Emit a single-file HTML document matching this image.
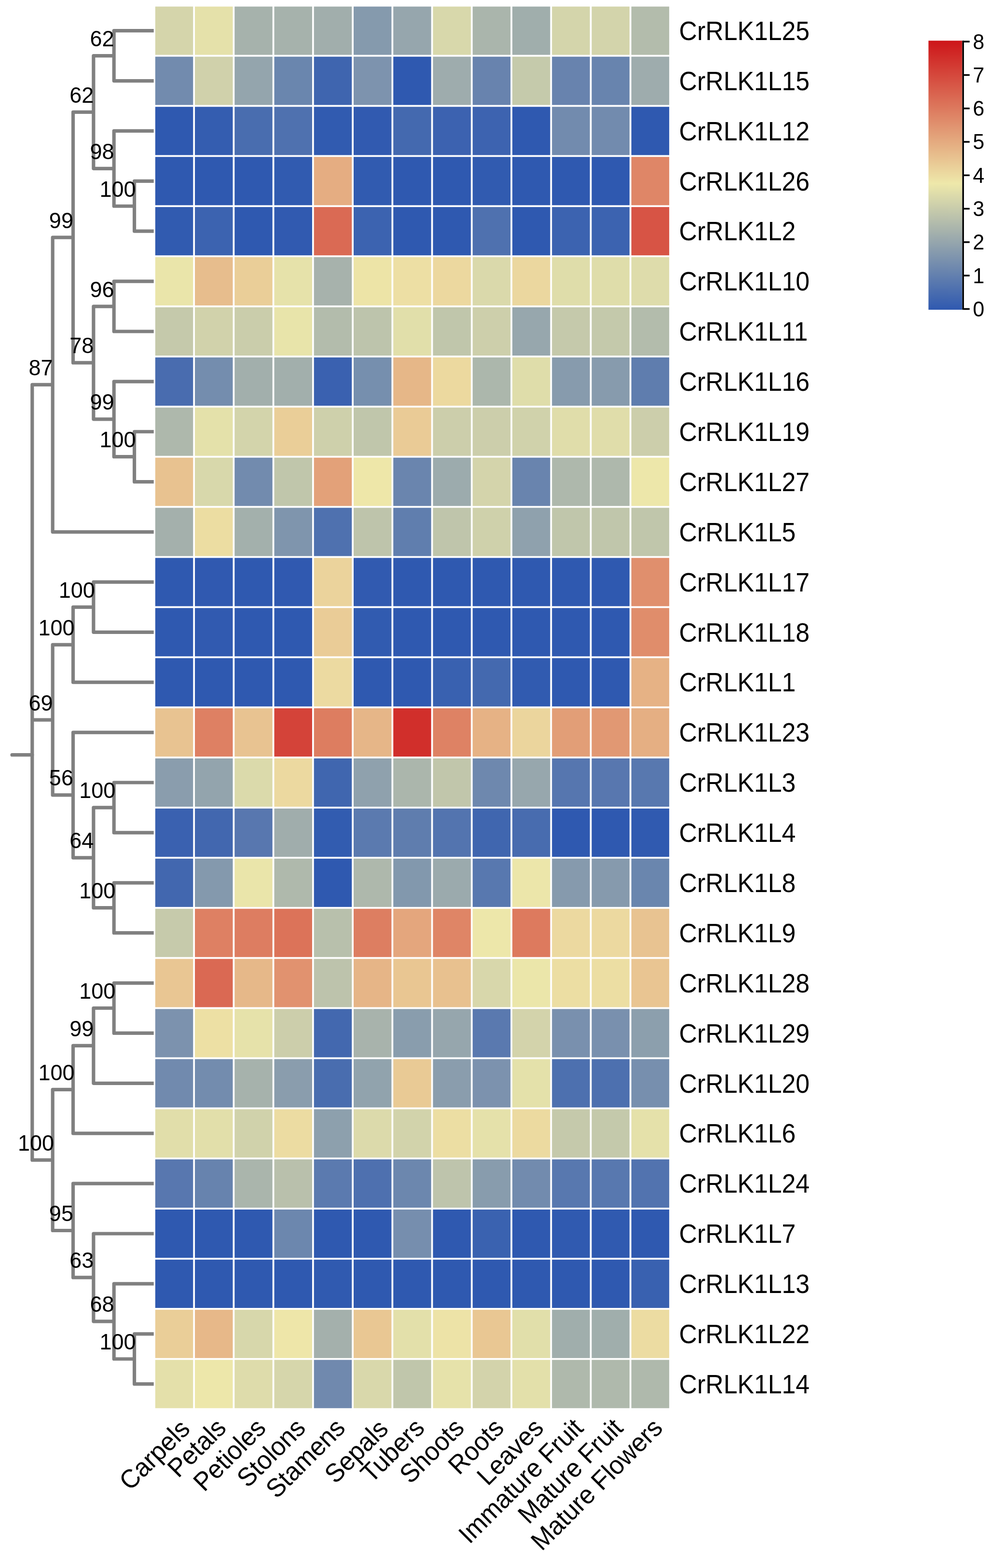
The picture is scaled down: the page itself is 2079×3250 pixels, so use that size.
<!DOCTYPE html><html><head><meta charset="utf-8"><title>CrRLK1L heatmap</title><style>html,body{margin:0;padding:0;background:#fff;}svg{display:block;}</style></head><body><svg width="2079" height="3250" viewBox="0 0 2079 3250">
<rect width="2079" height="3250" fill="#ffffff"/>
<g>
<rect x="321.8" y="13.6" width="78.44" height="100.09" fill="#D5D5AB"/>
<rect x="404.04" y="13.6" width="78.44" height="100.09" fill="#E5E1AA"/>
<rect x="486.28" y="13.6" width="78.44" height="100.09" fill="#A6B2AC"/>
<rect x="568.52" y="13.6" width="78.44" height="100.09" fill="#A6B2AC"/>
<rect x="650.76" y="13.6" width="78.44" height="100.09" fill="#A1AEAC"/>
<rect x="733" y="13.6" width="78.44" height="100.09" fill="#859AAD"/>
<rect x="815.24" y="13.6" width="78.44" height="100.09" fill="#96A6AD"/>
<rect x="897.48" y="13.6" width="78.44" height="100.09" fill="#D8D8AB"/>
<rect x="979.72" y="13.6" width="78.44" height="100.09" fill="#AAB5AC"/>
<rect x="1061.96" y="13.6" width="78.44" height="100.09" fill="#A0AEAC"/>
<rect x="1144.2" y="13.6" width="78.44" height="100.09" fill="#D4D5AB"/>
<rect x="1226.44" y="13.6" width="78.44" height="100.09" fill="#D3D4AB"/>
<rect x="1308.68" y="13.6" width="78.44" height="100.09" fill="#B3BCAC"/>
<rect x="321.8" y="117.49" width="78.44" height="100.09" fill="#728BAE"/>
<rect x="404.04" y="117.49" width="78.44" height="100.09" fill="#D0D1AB"/>
<rect x="486.28" y="117.49" width="78.44" height="100.09" fill="#94A5AD"/>
<rect x="568.52" y="117.49" width="78.44" height="100.09" fill="#6A86AE"/>
<rect x="650.76" y="117.49" width="78.44" height="100.09" fill="#3F65AF"/>
<rect x="733" y="117.49" width="78.44" height="100.09" fill="#7D93AE"/>
<rect x="815.24" y="117.49" width="78.44" height="100.09" fill="#2F59B0"/>
<rect x="897.48" y="117.49" width="78.44" height="100.09" fill="#9EACAD"/>
<rect x="979.72" y="117.49" width="78.44" height="100.09" fill="#6883AE"/>
<rect x="1061.96" y="117.49" width="78.44" height="100.09" fill="#C5CAAB"/>
<rect x="1144.2" y="117.49" width="78.44" height="100.09" fill="#6883AE"/>
<rect x="1226.44" y="117.49" width="78.44" height="100.09" fill="#6884AE"/>
<rect x="1308.68" y="117.49" width="78.44" height="100.09" fill="#9EACAD"/>
<rect x="321.8" y="221.38" width="78.44" height="100.09" fill="#2F59B0"/>
<rect x="404.04" y="221.38" width="78.44" height="100.09" fill="#345DB0"/>
<rect x="486.28" y="221.38" width="78.44" height="100.09" fill="#496DAF"/>
<rect x="568.52" y="221.38" width="78.44" height="100.09" fill="#4F71AF"/>
<rect x="650.76" y="221.38" width="78.44" height="100.09" fill="#315BB0"/>
<rect x="733" y="221.38" width="78.44" height="100.09" fill="#315AB0"/>
<rect x="815.24" y="221.38" width="78.44" height="100.09" fill="#4469AF"/>
<rect x="897.48" y="221.38" width="78.44" height="100.09" fill="#3C62B0"/>
<rect x="979.72" y="221.38" width="78.44" height="100.09" fill="#3D63B0"/>
<rect x="1061.96" y="221.38" width="78.44" height="100.09" fill="#2F59B0"/>
<rect x="1144.2" y="221.38" width="78.44" height="100.09" fill="#728BAE"/>
<rect x="1226.44" y="221.38" width="78.44" height="100.09" fill="#728BAE"/>
<rect x="1308.68" y="221.38" width="78.44" height="100.09" fill="#2F59B0"/>
<rect x="321.8" y="325.27" width="78.44" height="100.09" fill="#2F59B0"/>
<rect x="404.04" y="325.27" width="78.44" height="100.09" fill="#2F59B0"/>
<rect x="486.28" y="325.27" width="78.44" height="100.09" fill="#2F59B0"/>
<rect x="568.52" y="325.27" width="78.44" height="100.09" fill="#315BB0"/>
<rect x="650.76" y="325.27" width="78.44" height="100.09" fill="#E5AD82"/>
<rect x="733" y="325.27" width="78.44" height="100.09" fill="#315BB0"/>
<rect x="815.24" y="325.27" width="78.44" height="100.09" fill="#2F59B0"/>
<rect x="897.48" y="325.27" width="78.44" height="100.09" fill="#2F59B0"/>
<rect x="979.72" y="325.27" width="78.44" height="100.09" fill="#315BB0"/>
<rect x="1061.96" y="325.27" width="78.44" height="100.09" fill="#2F59B0"/>
<rect x="1144.2" y="325.27" width="78.44" height="100.09" fill="#2F59B0"/>
<rect x="1226.44" y="325.27" width="78.44" height="100.09" fill="#2F59B0"/>
<rect x="1308.68" y="325.27" width="78.44" height="100.09" fill="#DF8667"/>
<rect x="321.8" y="429.16" width="78.44" height="100.09" fill="#315BB0"/>
<rect x="404.04" y="429.16" width="78.44" height="100.09" fill="#3C63B0"/>
<rect x="486.28" y="429.16" width="78.44" height="100.09" fill="#2F59B0"/>
<rect x="568.52" y="429.16" width="78.44" height="100.09" fill="#315AB0"/>
<rect x="650.76" y="429.16" width="78.44" height="100.09" fill="#DA6A54"/>
<rect x="733" y="429.16" width="78.44" height="100.09" fill="#3C63B0"/>
<rect x="815.24" y="429.16" width="78.44" height="100.09" fill="#2F59B0"/>
<rect x="897.48" y="429.16" width="78.44" height="100.09" fill="#2F59B0"/>
<rect x="979.72" y="429.16" width="78.44" height="100.09" fill="#4F71AF"/>
<rect x="1061.96" y="429.16" width="78.44" height="100.09" fill="#2F59B0"/>
<rect x="1144.2" y="429.16" width="78.44" height="100.09" fill="#3C63B0"/>
<rect x="1226.44" y="429.16" width="78.44" height="100.09" fill="#3C63B0"/>
<rect x="1308.68" y="429.16" width="78.44" height="100.09" fill="#D75445"/>
<rect x="321.8" y="533.05" width="78.44" height="100.09" fill="#EAE5AA"/>
<rect x="404.04" y="533.05" width="78.44" height="100.09" fill="#E7BD8D"/>
<rect x="486.28" y="533.05" width="78.44" height="100.09" fill="#EACE98"/>
<rect x="568.52" y="533.05" width="78.44" height="100.09" fill="#E6E2AA"/>
<rect x="650.76" y="533.05" width="78.44" height="100.09" fill="#A7B2AC"/>
<rect x="733" y="533.05" width="78.44" height="100.09" fill="#EDE4A7"/>
<rect x="815.24" y="533.05" width="78.44" height="100.09" fill="#EDDFA4"/>
<rect x="897.48" y="533.05" width="78.44" height="100.09" fill="#ECD89F"/>
<rect x="979.72" y="533.05" width="78.44" height="100.09" fill="#DAD9AB"/>
<rect x="1061.96" y="533.05" width="78.44" height="100.09" fill="#EBD79F"/>
<rect x="1144.2" y="533.05" width="78.44" height="100.09" fill="#DFDDAA"/>
<rect x="1226.44" y="533.05" width="78.44" height="100.09" fill="#DFDDAA"/>
<rect x="1308.68" y="533.05" width="78.44" height="100.09" fill="#DEDCAB"/>
<rect x="321.8" y="636.94" width="78.44" height="100.09" fill="#C5C9AB"/>
<rect x="404.04" y="636.94" width="78.44" height="100.09" fill="#D1D2AB"/>
<rect x="486.28" y="636.94" width="78.44" height="100.09" fill="#CACDAB"/>
<rect x="568.52" y="636.94" width="78.44" height="100.09" fill="#E8E4AA"/>
<rect x="650.76" y="636.94" width="78.44" height="100.09" fill="#B3BCAC"/>
<rect x="733" y="636.94" width="78.44" height="100.09" fill="#BDC4AC"/>
<rect x="815.24" y="636.94" width="78.44" height="100.09" fill="#E1DFAA"/>
<rect x="897.48" y="636.94" width="78.44" height="100.09" fill="#C0C6AB"/>
<rect x="979.72" y="636.94" width="78.44" height="100.09" fill="#CDCFAB"/>
<rect x="1061.96" y="636.94" width="78.44" height="100.09" fill="#97A7AD"/>
<rect x="1144.2" y="636.94" width="78.44" height="100.09" fill="#C5C9AB"/>
<rect x="1226.44" y="636.94" width="78.44" height="100.09" fill="#C4C9AB"/>
<rect x="1308.68" y="636.94" width="78.44" height="100.09" fill="#B3BCAC"/>
<rect x="321.8" y="740.83" width="78.44" height="100.09" fill="#496CAF"/>
<rect x="404.04" y="740.83" width="78.44" height="100.09" fill="#748DAE"/>
<rect x="486.28" y="740.83" width="78.44" height="100.09" fill="#A2AFAC"/>
<rect x="568.52" y="740.83" width="78.44" height="100.09" fill="#A2AFAC"/>
<rect x="650.76" y="740.83" width="78.44" height="100.09" fill="#3A61B0"/>
<rect x="733" y="740.83" width="78.44" height="100.09" fill="#768FAE"/>
<rect x="815.24" y="740.83" width="78.44" height="100.09" fill="#E6B788"/>
<rect x="897.48" y="740.83" width="78.44" height="100.09" fill="#ECD99F"/>
<rect x="979.72" y="740.83" width="78.44" height="100.09" fill="#ACB7AC"/>
<rect x="1061.96" y="740.83" width="78.44" height="100.09" fill="#DFDDAA"/>
<rect x="1144.2" y="740.83" width="78.44" height="100.09" fill="#879BAD"/>
<rect x="1226.44" y="740.83" width="78.44" height="100.09" fill="#879BAD"/>
<rect x="1308.68" y="740.83" width="78.44" height="100.09" fill="#5F7DAE"/>
<rect x="321.8" y="844.72" width="78.44" height="100.09" fill="#AEB8AC"/>
<rect x="404.04" y="844.72" width="78.44" height="100.09" fill="#E4E1AA"/>
<rect x="486.28" y="844.72" width="78.44" height="100.09" fill="#D3D4AB"/>
<rect x="568.52" y="844.72" width="78.44" height="100.09" fill="#EACE98"/>
<rect x="650.76" y="844.72" width="78.44" height="100.09" fill="#CED0AB"/>
<rect x="733" y="844.72" width="78.44" height="100.09" fill="#C0C6AB"/>
<rect x="815.24" y="844.72" width="78.44" height="100.09" fill="#EACB96"/>
<rect x="897.48" y="844.72" width="78.44" height="100.09" fill="#CCCEAB"/>
<rect x="979.72" y="844.72" width="78.44" height="100.09" fill="#CCCEAB"/>
<rect x="1061.96" y="844.72" width="78.44" height="100.09" fill="#D0D2AB"/>
<rect x="1144.2" y="844.72" width="78.44" height="100.09" fill="#E0DDAA"/>
<rect x="1226.44" y="844.72" width="78.44" height="100.09" fill="#E0DDAA"/>
<rect x="1308.68" y="844.72" width="78.44" height="100.09" fill="#CCCEAB"/>
<rect x="321.8" y="948.61" width="78.44" height="100.09" fill="#E8C290"/>
<rect x="404.04" y="948.61" width="78.44" height="100.09" fill="#D8D8AB"/>
<rect x="486.28" y="948.61" width="78.44" height="100.09" fill="#728BAE"/>
<rect x="568.52" y="948.61" width="78.44" height="100.09" fill="#C0C6AB"/>
<rect x="650.76" y="948.61" width="78.44" height="100.09" fill="#E3A179"/>
<rect x="733" y="948.61" width="78.44" height="100.09" fill="#EEE7A9"/>
<rect x="815.24" y="948.61" width="78.44" height="100.09" fill="#6A85AE"/>
<rect x="897.48" y="948.61" width="78.44" height="100.09" fill="#9CABAD"/>
<rect x="979.72" y="948.61" width="78.44" height="100.09" fill="#D4D4AB"/>
<rect x="1061.96" y="948.61" width="78.44" height="100.09" fill="#6984AE"/>
<rect x="1144.2" y="948.61" width="78.44" height="100.09" fill="#AEB8AC"/>
<rect x="1226.44" y="948.61" width="78.44" height="100.09" fill="#AEB8AC"/>
<rect x="1308.68" y="948.61" width="78.44" height="100.09" fill="#EDE7AA"/>
<rect x="321.8" y="1052.5" width="78.44" height="100.09" fill="#A4B0AC"/>
<rect x="404.04" y="1052.5" width="78.44" height="100.09" fill="#ECDDA2"/>
<rect x="486.28" y="1052.5" width="78.44" height="100.09" fill="#A3B0AC"/>
<rect x="568.52" y="1052.5" width="78.44" height="100.09" fill="#7F95AD"/>
<rect x="650.76" y="1052.5" width="78.44" height="100.09" fill="#4F71AF"/>
<rect x="733" y="1052.5" width="78.44" height="100.09" fill="#BEC4AB"/>
<rect x="815.24" y="1052.5" width="78.44" height="100.09" fill="#607EAE"/>
<rect x="897.48" y="1052.5" width="78.44" height="100.09" fill="#BFC5AB"/>
<rect x="979.72" y="1052.5" width="78.44" height="100.09" fill="#CFD1AB"/>
<rect x="1061.96" y="1052.5" width="78.44" height="100.09" fill="#8FA1AD"/>
<rect x="1144.2" y="1052.5" width="78.44" height="100.09" fill="#C0C6AB"/>
<rect x="1226.44" y="1052.5" width="78.44" height="100.09" fill="#C0C6AB"/>
<rect x="1308.68" y="1052.5" width="78.44" height="100.09" fill="#C0C6AB"/>
<rect x="321.8" y="1156.39" width="78.44" height="100.09" fill="#2F59B0"/>
<rect x="404.04" y="1156.39" width="78.44" height="100.09" fill="#3059B0"/>
<rect x="486.28" y="1156.39" width="78.44" height="100.09" fill="#2F59B0"/>
<rect x="568.52" y="1156.39" width="78.44" height="100.09" fill="#3059B0"/>
<rect x="650.76" y="1156.39" width="78.44" height="100.09" fill="#EBD39C"/>
<rect x="733" y="1156.39" width="78.44" height="100.09" fill="#315AB0"/>
<rect x="815.24" y="1156.39" width="78.44" height="100.09" fill="#2F59B0"/>
<rect x="897.48" y="1156.39" width="78.44" height="100.09" fill="#2F59B0"/>
<rect x="979.72" y="1156.39" width="78.44" height="100.09" fill="#2F59B0"/>
<rect x="1061.96" y="1156.39" width="78.44" height="100.09" fill="#2F59B0"/>
<rect x="1144.2" y="1156.39" width="78.44" height="100.09" fill="#2F59B0"/>
<rect x="1226.44" y="1156.39" width="78.44" height="100.09" fill="#2F59B0"/>
<rect x="1308.68" y="1156.39" width="78.44" height="100.09" fill="#E08F6D"/>
<rect x="321.8" y="1260.28" width="78.44" height="100.09" fill="#2F59B0"/>
<rect x="404.04" y="1260.28" width="78.44" height="100.09" fill="#315AB0"/>
<rect x="486.28" y="1260.28" width="78.44" height="100.09" fill="#2F59B0"/>
<rect x="568.52" y="1260.28" width="78.44" height="100.09" fill="#2F59B0"/>
<rect x="650.76" y="1260.28" width="78.44" height="100.09" fill="#EACC97"/>
<rect x="733" y="1260.28" width="78.44" height="100.09" fill="#315BB0"/>
<rect x="815.24" y="1260.28" width="78.44" height="100.09" fill="#2F59B0"/>
<rect x="897.48" y="1260.28" width="78.44" height="100.09" fill="#2F59B0"/>
<rect x="979.72" y="1260.28" width="78.44" height="100.09" fill="#2F59B0"/>
<rect x="1061.96" y="1260.28" width="78.44" height="100.09" fill="#2F59B0"/>
<rect x="1144.2" y="1260.28" width="78.44" height="100.09" fill="#2F59B0"/>
<rect x="1226.44" y="1260.28" width="78.44" height="100.09" fill="#2F59B0"/>
<rect x="1308.68" y="1260.28" width="78.44" height="100.09" fill="#E08D6B"/>
<rect x="321.8" y="1364.17" width="78.44" height="100.09" fill="#2F59B0"/>
<rect x="404.04" y="1364.17" width="78.44" height="100.09" fill="#2F59B0"/>
<rect x="486.28" y="1364.17" width="78.44" height="100.09" fill="#2F59B0"/>
<rect x="568.52" y="1364.17" width="78.44" height="100.09" fill="#2F59B0"/>
<rect x="650.76" y="1364.17" width="78.44" height="100.09" fill="#ECDAA1"/>
<rect x="733" y="1364.17" width="78.44" height="100.09" fill="#2F59B0"/>
<rect x="815.24" y="1364.17" width="78.44" height="100.09" fill="#2F59B0"/>
<rect x="897.48" y="1364.17" width="78.44" height="100.09" fill="#3961B0"/>
<rect x="979.72" y="1364.17" width="78.44" height="100.09" fill="#4469AF"/>
<rect x="1061.96" y="1364.17" width="78.44" height="100.09" fill="#315BB0"/>
<rect x="1144.2" y="1364.17" width="78.44" height="100.09" fill="#2F59B0"/>
<rect x="1226.44" y="1364.17" width="78.44" height="100.09" fill="#2F59B0"/>
<rect x="1308.68" y="1364.17" width="78.44" height="100.09" fill="#E6B285"/>
<rect x="321.8" y="1468.06" width="78.44" height="100.09" fill="#E8C391"/>
<rect x="404.04" y="1468.06" width="78.44" height="100.09" fill="#DE8063"/>
<rect x="486.28" y="1468.06" width="78.44" height="100.09" fill="#E8C391"/>
<rect x="568.52" y="1468.06" width="78.44" height="100.09" fill="#D44339"/>
<rect x="650.76" y="1468.06" width="78.44" height="100.09" fill="#DD7D60"/>
<rect x="733" y="1468.06" width="78.44" height="100.09" fill="#E6B688"/>
<rect x="815.24" y="1468.06" width="78.44" height="100.09" fill="#D12F2B"/>
<rect x="897.48" y="1468.06" width="78.44" height="100.09" fill="#DE8264"/>
<rect x="979.72" y="1468.06" width="78.44" height="100.09" fill="#E6B285"/>
<rect x="1061.96" y="1468.06" width="78.44" height="100.09" fill="#EBD59D"/>
<rect x="1144.2" y="1468.06" width="78.44" height="100.09" fill="#E29E77"/>
<rect x="1226.44" y="1468.06" width="78.44" height="100.09" fill="#E19873"/>
<rect x="1308.68" y="1468.06" width="78.44" height="100.09" fill="#E5AF83"/>
<rect x="321.8" y="1571.95" width="78.44" height="100.09" fill="#8A9DAD"/>
<rect x="404.04" y="1571.95" width="78.44" height="100.09" fill="#93A4AD"/>
<rect x="486.28" y="1571.95" width="78.44" height="100.09" fill="#DBDAAB"/>
<rect x="568.52" y="1571.95" width="78.44" height="100.09" fill="#ECD9A0"/>
<rect x="650.76" y="1571.95" width="78.44" height="100.09" fill="#4066AF"/>
<rect x="733" y="1571.95" width="78.44" height="100.09" fill="#8FA1AD"/>
<rect x="815.24" y="1571.95" width="78.44" height="100.09" fill="#ABB6AC"/>
<rect x="897.48" y="1571.95" width="78.44" height="100.09" fill="#C1C6AB"/>
<rect x="979.72" y="1571.95" width="78.44" height="100.09" fill="#6E88AE"/>
<rect x="1061.96" y="1571.95" width="78.44" height="100.09" fill="#97A7AD"/>
<rect x="1144.2" y="1571.95" width="78.44" height="100.09" fill="#5676AF"/>
<rect x="1226.44" y="1571.95" width="78.44" height="100.09" fill="#5877AF"/>
<rect x="1308.68" y="1571.95" width="78.44" height="100.09" fill="#5878AF"/>
<rect x="321.8" y="1675.84" width="78.44" height="100.09" fill="#3A61B0"/>
<rect x="404.04" y="1675.84" width="78.44" height="100.09" fill="#4267AF"/>
<rect x="486.28" y="1675.84" width="78.44" height="100.09" fill="#5877AF"/>
<rect x="568.52" y="1675.84" width="78.44" height="100.09" fill="#A0ADAC"/>
<rect x="650.76" y="1675.84" width="78.44" height="100.09" fill="#325CB0"/>
<rect x="733" y="1675.84" width="78.44" height="100.09" fill="#5B7AAF"/>
<rect x="815.24" y="1675.84" width="78.44" height="100.09" fill="#5F7DAE"/>
<rect x="897.48" y="1675.84" width="78.44" height="100.09" fill="#5374AF"/>
<rect x="979.72" y="1675.84" width="78.44" height="100.09" fill="#4066AF"/>
<rect x="1061.96" y="1675.84" width="78.44" height="100.09" fill="#486CAF"/>
<rect x="1144.2" y="1675.84" width="78.44" height="100.09" fill="#2F59B0"/>
<rect x="1226.44" y="1675.84" width="78.44" height="100.09" fill="#2F59B0"/>
<rect x="1308.68" y="1675.84" width="78.44" height="100.09" fill="#305AB0"/>
<rect x="321.8" y="1779.73" width="78.44" height="100.09" fill="#4267AF"/>
<rect x="404.04" y="1779.73" width="78.44" height="100.09" fill="#8499AD"/>
<rect x="486.28" y="1779.73" width="78.44" height="100.09" fill="#EAE5AA"/>
<rect x="568.52" y="1779.73" width="78.44" height="100.09" fill="#AFB9AC"/>
<rect x="650.76" y="1779.73" width="78.44" height="100.09" fill="#2F59B0"/>
<rect x="733" y="1779.73" width="78.44" height="100.09" fill="#AEB8AC"/>
<rect x="815.24" y="1779.73" width="78.44" height="100.09" fill="#8298AD"/>
<rect x="897.48" y="1779.73" width="78.44" height="100.09" fill="#9BAAAD"/>
<rect x="979.72" y="1779.73" width="78.44" height="100.09" fill="#5878AF"/>
<rect x="1061.96" y="1779.73" width="78.44" height="100.09" fill="#ECE6AA"/>
<rect x="1144.2" y="1779.73" width="78.44" height="100.09" fill="#869AAD"/>
<rect x="1226.44" y="1779.73" width="78.44" height="100.09" fill="#869AAD"/>
<rect x="1308.68" y="1779.73" width="78.44" height="100.09" fill="#6A86AE"/>
<rect x="321.8" y="1883.62" width="78.44" height="100.09" fill="#C6CAAB"/>
<rect x="404.04" y="1883.62" width="78.44" height="100.09" fill="#DE8063"/>
<rect x="486.28" y="1883.62" width="78.44" height="100.09" fill="#DD7D61"/>
<rect x="568.52" y="1883.62" width="78.44" height="100.09" fill="#DC7359"/>
<rect x="650.76" y="1883.62" width="78.44" height="100.09" fill="#B8C0AC"/>
<rect x="733" y="1883.62" width="78.44" height="100.09" fill="#DD7E61"/>
<rect x="815.24" y="1883.62" width="78.44" height="100.09" fill="#E4A67D"/>
<rect x="897.48" y="1883.62" width="78.44" height="100.09" fill="#DF8566"/>
<rect x="979.72" y="1883.62" width="78.44" height="100.09" fill="#EDE7AA"/>
<rect x="1061.96" y="1883.62" width="78.44" height="100.09" fill="#DD7A5E"/>
<rect x="1144.2" y="1883.62" width="78.44" height="100.09" fill="#ECD9A0"/>
<rect x="1226.44" y="1883.62" width="78.44" height="100.09" fill="#ECD9A0"/>
<rect x="1308.68" y="1883.62" width="78.44" height="100.09" fill="#E8C391"/>
<rect x="321.8" y="1987.51" width="78.44" height="100.09" fill="#E9C693"/>
<rect x="404.04" y="1987.51" width="78.44" height="100.09" fill="#DA6953"/>
<rect x="486.28" y="1987.51" width="78.44" height="100.09" fill="#E6B889"/>
<rect x="568.52" y="1987.51" width="78.44" height="100.09" fill="#E1926F"/>
<rect x="650.76" y="1987.51" width="78.44" height="100.09" fill="#BDC3AC"/>
<rect x="733" y="1987.51" width="78.44" height="100.09" fill="#E6B587"/>
<rect x="815.24" y="1987.51" width="78.44" height="100.09" fill="#E9C692"/>
<rect x="897.48" y="1987.51" width="78.44" height="100.09" fill="#E8C18F"/>
<rect x="979.72" y="1987.51" width="78.44" height="100.09" fill="#D8D7AB"/>
<rect x="1061.96" y="1987.51" width="78.44" height="100.09" fill="#EBE6AA"/>
<rect x="1144.2" y="1987.51" width="78.44" height="100.09" fill="#ECDEA3"/>
<rect x="1226.44" y="1987.51" width="78.44" height="100.09" fill="#ECDEA3"/>
<rect x="1308.68" y="1987.51" width="78.44" height="100.09" fill="#E9C592"/>
<rect x="321.8" y="2091.4" width="78.44" height="100.09" fill="#7C92AE"/>
<rect x="404.04" y="2091.4" width="78.44" height="100.09" fill="#EDE0A4"/>
<rect x="486.28" y="2091.4" width="78.44" height="100.09" fill="#E6E2AA"/>
<rect x="568.52" y="2091.4" width="78.44" height="100.09" fill="#CCCEAB"/>
<rect x="650.76" y="2091.4" width="78.44" height="100.09" fill="#4368AF"/>
<rect x="733" y="2091.4" width="78.44" height="100.09" fill="#A8B3AC"/>
<rect x="815.24" y="2091.4" width="78.44" height="100.09" fill="#899DAD"/>
<rect x="897.48" y="2091.4" width="78.44" height="100.09" fill="#96A6AD"/>
<rect x="979.72" y="2091.4" width="78.44" height="100.09" fill="#5A79AF"/>
<rect x="1061.96" y="2091.4" width="78.44" height="100.09" fill="#D3D3AB"/>
<rect x="1144.2" y="2091.4" width="78.44" height="100.09" fill="#7990AE"/>
<rect x="1226.44" y="2091.4" width="78.44" height="100.09" fill="#7990AE"/>
<rect x="1308.68" y="2091.4" width="78.44" height="100.09" fill="#8C9FAD"/>
<rect x="321.8" y="2195.29" width="78.44" height="100.09" fill="#718AAE"/>
<rect x="404.04" y="2195.29" width="78.44" height="100.09" fill="#738CAE"/>
<rect x="486.28" y="2195.29" width="78.44" height="100.09" fill="#A6B2AC"/>
<rect x="568.52" y="2195.29" width="78.44" height="100.09" fill="#8A9DAD"/>
<rect x="650.76" y="2195.29" width="78.44" height="100.09" fill="#496DAF"/>
<rect x="733" y="2195.29" width="78.44" height="100.09" fill="#91A3AD"/>
<rect x="815.24" y="2195.29" width="78.44" height="100.09" fill="#E9CA95"/>
<rect x="897.48" y="2195.29" width="78.44" height="100.09" fill="#8A9DAD"/>
<rect x="979.72" y="2195.29" width="78.44" height="100.09" fill="#7C92AE"/>
<rect x="1061.96" y="2195.29" width="78.44" height="100.09" fill="#E4E1AA"/>
<rect x="1144.2" y="2195.29" width="78.44" height="100.09" fill="#4D70AF"/>
<rect x="1226.44" y="2195.29" width="78.44" height="100.09" fill="#4D70AF"/>
<rect x="1308.68" y="2195.29" width="78.44" height="100.09" fill="#778FAE"/>
<rect x="321.8" y="2299.18" width="78.44" height="100.09" fill="#E1DEAA"/>
<rect x="404.04" y="2299.18" width="78.44" height="100.09" fill="#E2DFAA"/>
<rect x="486.28" y="2299.18" width="78.44" height="100.09" fill="#D0D2AB"/>
<rect x="568.52" y="2299.18" width="78.44" height="100.09" fill="#ECDCA2"/>
<rect x="650.76" y="2299.18" width="78.44" height="100.09" fill="#8DA0AD"/>
<rect x="733" y="2299.18" width="78.44" height="100.09" fill="#DCDAAB"/>
<rect x="815.24" y="2299.18" width="78.44" height="100.09" fill="#D2D3AB"/>
<rect x="897.48" y="2299.18" width="78.44" height="100.09" fill="#ECDEA3"/>
<rect x="979.72" y="2299.18" width="78.44" height="100.09" fill="#E5E1AA"/>
<rect x="1061.96" y="2299.18" width="78.44" height="100.09" fill="#ECDAA0"/>
<rect x="1144.2" y="2299.18" width="78.44" height="100.09" fill="#C5C9AB"/>
<rect x="1226.44" y="2299.18" width="78.44" height="100.09" fill="#C4C9AB"/>
<rect x="1308.68" y="2299.18" width="78.44" height="100.09" fill="#E5E1AA"/>
<rect x="321.8" y="2403.07" width="78.44" height="100.09" fill="#5877AF"/>
<rect x="404.04" y="2403.07" width="78.44" height="100.09" fill="#6783AE"/>
<rect x="486.28" y="2403.07" width="78.44" height="100.09" fill="#AAB5AC"/>
<rect x="568.52" y="2403.07" width="78.44" height="100.09" fill="#B9C0AC"/>
<rect x="650.76" y="2403.07" width="78.44" height="100.09" fill="#5B7AAF"/>
<rect x="733" y="2403.07" width="78.44" height="100.09" fill="#4E70AF"/>
<rect x="815.24" y="2403.07" width="78.44" height="100.09" fill="#6C87AE"/>
<rect x="897.48" y="2403.07" width="78.44" height="100.09" fill="#BEC4AC"/>
<rect x="979.72" y="2403.07" width="78.44" height="100.09" fill="#889CAD"/>
<rect x="1061.96" y="2403.07" width="78.44" height="100.09" fill="#728BAE"/>
<rect x="1144.2" y="2403.07" width="78.44" height="100.09" fill="#5878AF"/>
<rect x="1226.44" y="2403.07" width="78.44" height="100.09" fill="#5878AF"/>
<rect x="1308.68" y="2403.07" width="78.44" height="100.09" fill="#5273AF"/>
<rect x="321.8" y="2506.96" width="78.44" height="100.09" fill="#2F59B0"/>
<rect x="404.04" y="2506.96" width="78.44" height="100.09" fill="#2F59B0"/>
<rect x="486.28" y="2506.96" width="78.44" height="100.09" fill="#2F59B0"/>
<rect x="568.52" y="2506.96" width="78.44" height="100.09" fill="#6C87AE"/>
<rect x="650.76" y="2506.96" width="78.44" height="100.09" fill="#2F59B0"/>
<rect x="733" y="2506.96" width="78.44" height="100.09" fill="#2F59B0"/>
<rect x="815.24" y="2506.96" width="78.44" height="100.09" fill="#768EAE"/>
<rect x="897.48" y="2506.96" width="78.44" height="100.09" fill="#2F59B0"/>
<rect x="979.72" y="2506.96" width="78.44" height="100.09" fill="#3A62B0"/>
<rect x="1061.96" y="2506.96" width="78.44" height="100.09" fill="#2F59B0"/>
<rect x="1144.2" y="2506.96" width="78.44" height="100.09" fill="#305AB0"/>
<rect x="1226.44" y="2506.96" width="78.44" height="100.09" fill="#305AB0"/>
<rect x="1308.68" y="2506.96" width="78.44" height="100.09" fill="#2F59B0"/>
<rect x="321.8" y="2610.85" width="78.44" height="100.09" fill="#2F59B0"/>
<rect x="404.04" y="2610.85" width="78.44" height="100.09" fill="#2F59B0"/>
<rect x="486.28" y="2610.85" width="78.44" height="100.09" fill="#2F59B0"/>
<rect x="568.52" y="2610.85" width="78.44" height="100.09" fill="#2F59B0"/>
<rect x="650.76" y="2610.85" width="78.44" height="100.09" fill="#305AB0"/>
<rect x="733" y="2610.85" width="78.44" height="100.09" fill="#2F59B0"/>
<rect x="815.24" y="2610.85" width="78.44" height="100.09" fill="#2F59B0"/>
<rect x="897.48" y="2610.85" width="78.44" height="100.09" fill="#2F59B0"/>
<rect x="979.72" y="2610.85" width="78.44" height="100.09" fill="#2F59B0"/>
<rect x="1061.96" y="2610.85" width="78.44" height="100.09" fill="#2F59B0"/>
<rect x="1144.2" y="2610.85" width="78.44" height="100.09" fill="#2F59B0"/>
<rect x="1226.44" y="2610.85" width="78.44" height="100.09" fill="#2F59B0"/>
<rect x="1308.68" y="2610.85" width="78.44" height="100.09" fill="#3961B0"/>
<rect x="321.8" y="2714.74" width="78.44" height="100.09" fill="#EACE98"/>
<rect x="404.04" y="2714.74" width="78.44" height="100.09" fill="#E7B889"/>
<rect x="486.28" y="2714.74" width="78.44" height="100.09" fill="#D7D7AB"/>
<rect x="568.52" y="2714.74" width="78.44" height="100.09" fill="#EEE6A9"/>
<rect x="650.76" y="2714.74" width="78.44" height="100.09" fill="#A4B0AC"/>
<rect x="733" y="2714.74" width="78.44" height="100.09" fill="#E9C793"/>
<rect x="815.24" y="2714.74" width="78.44" height="100.09" fill="#E3E0AA"/>
<rect x="897.48" y="2714.74" width="78.44" height="100.09" fill="#EDE3A7"/>
<rect x="979.72" y="2714.74" width="78.44" height="100.09" fill="#E9C793"/>
<rect x="1061.96" y="2714.74" width="78.44" height="100.09" fill="#E1DFAA"/>
<rect x="1144.2" y="2714.74" width="78.44" height="100.09" fill="#A0AEAC"/>
<rect x="1226.44" y="2714.74" width="78.44" height="100.09" fill="#A0AEAC"/>
<rect x="1308.68" y="2714.74" width="78.44" height="100.09" fill="#ECDCA2"/>
<rect x="321.8" y="2818.63" width="78.44" height="100.09" fill="#E4E0AA"/>
<rect x="404.04" y="2818.63" width="78.44" height="100.09" fill="#EDE7AA"/>
<rect x="486.28" y="2818.63" width="78.44" height="100.09" fill="#DEDCAB"/>
<rect x="568.52" y="2818.63" width="78.44" height="100.09" fill="#D6D6AB"/>
<rect x="650.76" y="2818.63" width="78.44" height="100.09" fill="#7089AE"/>
<rect x="733" y="2818.63" width="78.44" height="100.09" fill="#D9D8AB"/>
<rect x="815.24" y="2818.63" width="78.44" height="100.09" fill="#C0C6AB"/>
<rect x="897.48" y="2818.63" width="78.44" height="100.09" fill="#E6E2AA"/>
<rect x="979.72" y="2818.63" width="78.44" height="100.09" fill="#D3D3AB"/>
<rect x="1061.96" y="2818.63" width="78.44" height="100.09" fill="#E3E0AA"/>
<rect x="1144.2" y="2818.63" width="78.44" height="100.09" fill="#AFB9AC"/>
<rect x="1226.44" y="2818.63" width="78.44" height="100.09" fill="#AFB9AC"/>
<rect x="1308.68" y="2818.63" width="78.44" height="100.09" fill="#AFB9AC"/>
</g>
<path d="M318.7 63.64H236.2V167.53H318.7M318.7 375.31H278.55V479.2H318.7M318.7 271.43H236.2V427.26H278.55M236.2 115.59H193.85V349.34H236.2M318.7 583.1H236.2V686.99H318.7M318.7 894.77H278.55V998.66H318.7M318.7 790.88H236.2V946.71H278.55M236.2 635.04H193.85V868.79H236.2M193.85 232.47H151.5V751.92H193.85M151.5 492.19H109.15V1102.55H318.7M318.7 1206.43H193.85V1310.33H318.7M193.85 1258.38H151.5V1414.22H318.7M318.7 1622H236.2V1725.88H318.7M318.7 1829.78H236.2V1933.66H318.7M236.2 1673.94H193.85V1881.72H236.2M318.7 1518.11H151.5V1777.83H193.85M151.5 1336.3H109.15V1647.97H151.5M318.7 2037.56H236.2V2141.44H318.7M236.2 2089.5H193.85V2245.34H318.7M193.85 2167.42H151.5V2349.22H318.7M318.7 2764.78H278.55V2868.67H318.7M318.7 2660.89H236.2V2816.73H278.55M318.7 2557H193.85V2738.81H236.2M318.7 2453.11H151.5V2647.91H193.85M151.5 2258.32H109.15V2550.51H151.5M109.15 797.37H66.8V2404.42H109.15M66.8 1492.13H109.15" fill="none" stroke="#808080" stroke-width="7.2" stroke-linejoin="round" stroke-linecap="butt"/>
<path d="M25 1564.64H66.8" fill="none" stroke="#808080" stroke-width="7.2" stroke-linecap="round"/>
<g font-family="'Liberation Sans', Arial, sans-serif" font-size="45" text-anchor="end" fill="#000">
<text transform="translate(236.6 96.09) scale(1 1.04)">62</text>
<text transform="translate(281.55 407.76) scale(1 1.04)">100</text>
<text transform="translate(236.6 329.84) scale(1 1.04)">98</text>
<text transform="translate(194.25 212.97) scale(1 1.04)">62</text>
<text transform="translate(236.6 615.54) scale(1 1.04)">96</text>
<text transform="translate(281.55 927.21) scale(1 1.04)">100</text>
<text transform="translate(236.6 849.29) scale(1 1.04)">99</text>
<text transform="translate(194.25 732.42) scale(1 1.04)">78</text>
<text transform="translate(151.9 472.69) scale(1 1.04)">99</text>
<text transform="translate(109.55 777.87) scale(1 1.04)">87</text>
<text transform="translate(196.85 1238.88) scale(1 1.04)">100</text>
<text transform="translate(154.5 1316.8) scale(1 1.04)">100</text>
<text transform="translate(239.2 1654.44) scale(1 1.04)">100</text>
<text transform="translate(239.2 1862.22) scale(1 1.04)">100</text>
<text transform="translate(194.25 1758.33) scale(1 1.04)">64</text>
<text transform="translate(151.9 1628.47) scale(1 1.04)">56</text>
<text transform="translate(109.55 1472.63) scale(1 1.04)">69</text>
<text transform="translate(239.2 2070) scale(1 1.04)">100</text>
<text transform="translate(194.25 2147.92) scale(1 1.04)">99</text>
<text transform="translate(154.5 2238.82) scale(1 1.04)">100</text>
<text transform="translate(281.55 2797.23) scale(1 1.04)">100</text>
<text transform="translate(236.6 2719.31) scale(1 1.04)">68</text>
<text transform="translate(194.25 2628.41) scale(1 1.04)">63</text>
<text transform="translate(151.9 2531.01) scale(1 1.04)">95</text>
<text transform="translate(112.15 2384.92) scale(1 1.04)">100</text>
</g>
<g font-family="'Liberation Sans', Arial, sans-serif" font-size="51.8" fill="#000">
<text transform="translate(1407.6 82.84) scale(1 1.06)">CrRLK1L25</text>
<text transform="translate(1407.6 186.73) scale(1 1.06)">CrRLK1L15</text>
<text transform="translate(1407.6 290.62) scale(1 1.06)">CrRLK1L12</text>
<text transform="translate(1407.6 394.51) scale(1 1.06)">CrRLK1L26</text>
<text transform="translate(1407.6 498.4) scale(1 1.06)">CrRLK1L2</text>
<text transform="translate(1407.6 602.3) scale(1 1.06)">CrRLK1L10</text>
<text transform="translate(1407.6 706.19) scale(1 1.06)">CrRLK1L11</text>
<text transform="translate(1407.6 810.08) scale(1 1.06)">CrRLK1L16</text>
<text transform="translate(1407.6 913.97) scale(1 1.06)">CrRLK1L19</text>
<text transform="translate(1407.6 1017.86) scale(1 1.06)">CrRLK1L27</text>
<text transform="translate(1407.6 1121.75) scale(1 1.06)">CrRLK1L5</text>
<text transform="translate(1407.6 1225.63) scale(1 1.06)">CrRLK1L17</text>
<text transform="translate(1407.6 1329.53) scale(1 1.06)">CrRLK1L18</text>
<text transform="translate(1407.6 1433.42) scale(1 1.06)">CrRLK1L1</text>
<text transform="translate(1407.6 1537.31) scale(1 1.06)">CrRLK1L23</text>
<text transform="translate(1407.6 1641.2) scale(1 1.06)">CrRLK1L3</text>
<text transform="translate(1407.6 1745.09) scale(1 1.06)">CrRLK1L4</text>
<text transform="translate(1407.6 1848.98) scale(1 1.06)">CrRLK1L8</text>
<text transform="translate(1407.6 1952.87) scale(1 1.06)">CrRLK1L9</text>
<text transform="translate(1407.6 2056.76) scale(1 1.06)">CrRLK1L28</text>
<text transform="translate(1407.6 2160.64) scale(1 1.06)">CrRLK1L29</text>
<text transform="translate(1407.6 2264.53) scale(1 1.06)">CrRLK1L20</text>
<text transform="translate(1407.6 2368.42) scale(1 1.06)">CrRLK1L6</text>
<text transform="translate(1407.6 2472.31) scale(1 1.06)">CrRLK1L24</text>
<text transform="translate(1407.6 2576.2) scale(1 1.06)">CrRLK1L7</text>
<text transform="translate(1407.6 2680.09) scale(1 1.06)">CrRLK1L13</text>
<text transform="translate(1407.6 2783.98) scale(1 1.06)">CrRLK1L22</text>
<text transform="translate(1407.6 2887.87) scale(1 1.06)">CrRLK1L14</text>
</g>
<g font-family="'Liberation Sans', Arial, sans-serif" font-size="52" fill="#000" text-anchor="end">
<text transform="translate(396.52 2964.92) rotate(-45) scale(1 1.04)">Carpels</text>
<text transform="translate(471.76 2962.92) rotate(-45) scale(1 1.04)">Petals</text>
<text transform="translate(554 2962.92) rotate(-45) scale(1 1.04)">Petioles</text>
<text transform="translate(636.24 2962.92) rotate(-45) scale(1 1.04)">Stolons</text>
<text transform="translate(718.48 2962.92) rotate(-45) scale(1 1.04)">Stamens</text>
<text transform="translate(807.72 2964.92) rotate(-45) scale(1 1.04)">Sepals</text>
<text transform="translate(882.96 2962.92) rotate(-45) scale(1 1.04)">Tubers</text>
<text transform="translate(965.2 2962.92) rotate(-45) scale(1 1.04)">Shoots</text>
<text transform="translate(1047.44 2962.92) rotate(-45) scale(1 1.04)">Roots</text>
<text transform="translate(1129.68 2962.92) rotate(-45) scale(1 1.04)">Leaves</text>
<text transform="translate(1211.92 2962.92) rotate(-45) scale(1 1.04)">Immature Fruit</text>
<text transform="translate(1294.16 2962.92) rotate(-45) scale(1 1.04)">Mature Fruit</text>
<text transform="translate(1376.4 2962.92) rotate(-45) scale(1 1.04)">Mature Flowers</text>
</g>
<defs><linearGradient id="cb" x1="0" y1="0" x2="0" y2="1"><stop offset="0" stop-color="#CD1519"/><stop offset="53.1%" stop-color="#EEE8AA"/><stop offset="1" stop-color="#2F59B0"/></linearGradient></defs>
<rect x="1924.5" y="84.3" width="70" height="557.7" fill="url(#cb)"/>
<line x1="1996.3" y1="84.3" x2="1996.3" y2="642" stroke="#000" stroke-width="3.5"/>
<g font-family="'Liberation Sans', Arial, sans-serif" font-size="43" fill="#000">
<line x1="1996.3" y1="640.44" x2="2009.8" y2="640.44" stroke="#000" stroke-width="3.5"/>
<text transform="translate(2016.5 655.87) scale(1 1.04)">0</text>
<line x1="1996.3" y1="571.16" x2="2009.8" y2="571.16" stroke="#000" stroke-width="3.5"/>
<text transform="translate(2016.5 586.59) scale(1 1.04)">1</text>
<line x1="1996.3" y1="501.88" x2="2009.8" y2="501.88" stroke="#000" stroke-width="3.5"/>
<text transform="translate(2016.5 517.31) scale(1 1.04)">2</text>
<line x1="1996.3" y1="432.6" x2="2009.8" y2="432.6" stroke="#000" stroke-width="3.5"/>
<text transform="translate(2016.5 448.03) scale(1 1.04)">3</text>
<line x1="1996.3" y1="363.32" x2="2009.8" y2="363.32" stroke="#000" stroke-width="3.5"/>
<text transform="translate(2016.5 378.75) scale(1 1.04)">4</text>
<line x1="1996.3" y1="294.04" x2="2009.8" y2="294.04" stroke="#000" stroke-width="3.5"/>
<text transform="translate(2016.5 309.47) scale(1 1.04)">5</text>
<line x1="1996.3" y1="224.76" x2="2009.8" y2="224.76" stroke="#000" stroke-width="3.5"/>
<text transform="translate(2016.5 240.19) scale(1 1.04)">6</text>
<line x1="1996.3" y1="155.48" x2="2009.8" y2="155.48" stroke="#000" stroke-width="3.5"/>
<text transform="translate(2016.5 170.91) scale(1 1.04)">7</text>
<line x1="1996.3" y1="86.2" x2="2009.8" y2="86.2" stroke="#000" stroke-width="3.5"/>
<text transform="translate(2016.5 101.63) scale(1 1.04)">8</text>
</g>
</svg></body></html>
